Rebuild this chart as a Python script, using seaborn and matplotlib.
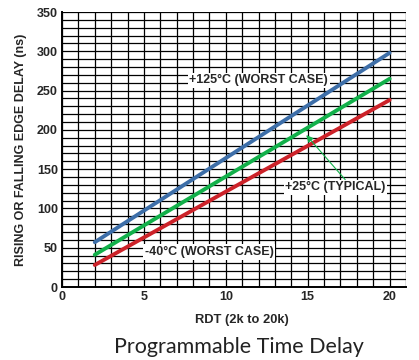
import pandas as pd
import numpy as np
import matplotlib.pyplot as plt
import seaborn as sns

sns.set_style("white")
plt.rcParams['font.family'] = ['Liberation Sans', 'DejaVu Sans']

# values (endpoints at RDT = 2 and 20)
rdt = [2, 20]
delay_125 = [57, 298]
delay_25 = [41, 265]
delay_m40 = [28, 238]
series_names = ["+125°C (WORST CASE)", "+25°C (TYPICAL)", "-40°C (WORST CASE)"]
colors = ["#3d6ea8", "#12b04a", "#cc2229"]

df = pd.concat([
    pd.DataFrame({"RDT": rdt, "Delay": delay_125, "Temp": series_names[0]}),
    pd.DataFrame({"RDT": rdt, "Delay": delay_25, "Temp": series_names[1]}),
    pd.DataFrame({"RDT": rdt, "Delay": delay_m40, "Temp": series_names[2]}),
])

fig = plt.figure(figsize=(4.19, 3.6), dpi=100)
ax = fig.add_axes([62/419, 73/360, 344/419, 275/360])

sns.lineplot(data=df, x="RDT", y="Delay", hue="Temp", palette=colors,
             linewidth=2.8, legend=False, ax=ax, zorder=3)

ax.set_xlim(0, 21)
ax.set_ylim(0, 350)
ax.set_xticks(np.arange(0, 21, 5))
ax.set_yticks(np.arange(0, 351, 50))
ax.set_xticks(np.arange(0, 22, 1), minor=True)
ax.set_yticks(np.arange(0, 351, 10), minor=True)
ax.grid(True, which="both", color="black", linewidth=0.9)
ax.tick_params(which="both", length=0, labelsize=9, pad=3)
for lab in ax.get_xticklabels() + ax.get_yticklabels():
    lab.set_fontweight("bold")
for s in ["top", "right"]:
    ax.spines[s].set_visible(False)
for s in ["left", "bottom"]:
    ax.spines[s].set_linewidth(1.4)
    ax.spines[s].set_color("black")

ax.set_xlabel("RDT (2k to 20k)", fontsize=9.3, fontweight="bold")
ax.xaxis.set_label_coords(0.523, -0.098)
ax.set_ylabel("RISING OR FALLING EDGE DELAY (ns)", fontsize=9, fontweight="bold", labelpad=7)

box = dict(facecolor="white", edgecolor="none", pad=1.2)
ax.text(12.0, 263, series_names[0], ha="center", va="center", fontsize=9,
        fontweight="bold", bbox=box, zorder=4)
ax.text(16.7, 127, series_names[1], ha="center", va="center", fontsize=9,
        fontweight="bold", bbox=box, zorder=4)
ax.text(9.0, 44.5, series_names[2], ha="center", va="center", fontsize=9,
        fontweight="bold", bbox=box, zorder=4)
ax.annotate("", xy=(14.8, 196), xytext=(17.4, 134),
            arrowprops=dict(arrowstyle="-|>", color="#12b04a", lw=0.8,
                            mutation_scale=10), zorder=4)

fig.text(0.571, 0.036, "Programmable Time Delay", ha="center", va="center",
         fontsize=15.5, family=["Lato", "DejaVu Sans"], color="#222222")

fig.savefig("out.png", dpi=100)
